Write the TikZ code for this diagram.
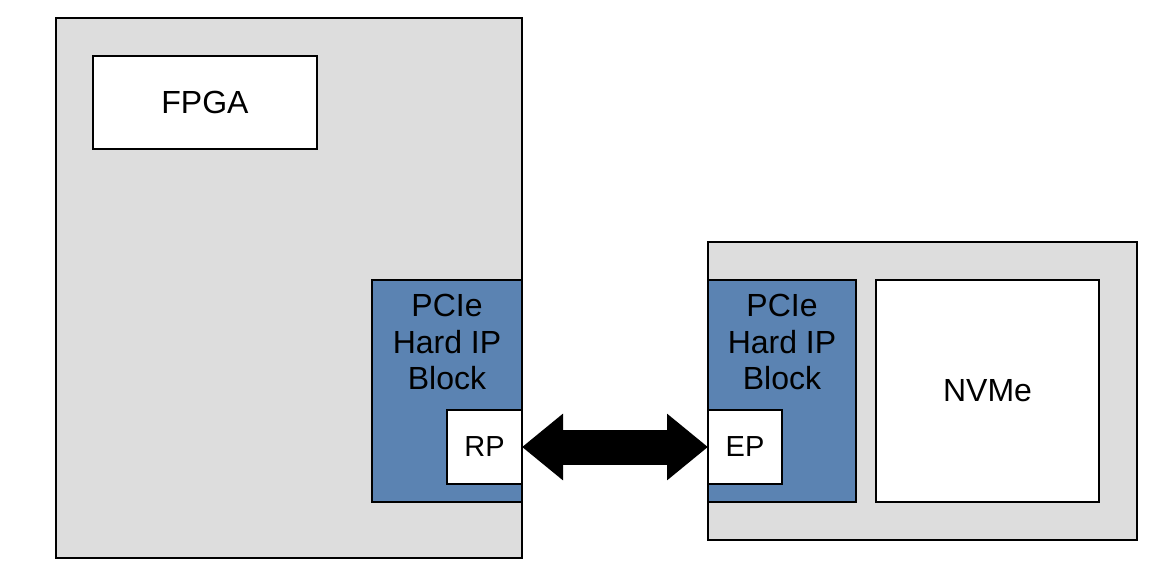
\documentclass[tikz,border=0pt]{standalone}
\usepackage{fontspec}
\setmainfont{Liberation Sans}
\usetikzlibrary{arrows.meta}
\definecolor{boxgray}{RGB}{221,221,221}
\definecolor{ipblue}{RGB}{91,131,178}
\begin{document}
\begin{tikzpicture}[x=1pt,y=-1pt,
  box/.style={draw=black,line width=2pt,rectangle,inner sep=0pt,outer sep=0pt},
  lbl/.style={font=\fontsize{32}{36.5}\selectfont,align=center,inner sep=0pt},
  small/.style={font=\fontsize{29}{34}\selectfont}]
\useasboundingbox (0,0) rectangle (1173,587);
% left board
\node[box,fill=boxgray,minimum width=466pt,minimum height=540pt] (board) at (289,288) {};
\node[box,fill=white,minimum width=224pt,minimum height=93pt,lbl] (fpga) at (205,102.5) {FPGA};
\node[box,fill=ipblue,minimum width=150pt,minimum height=222pt] (ipL) at (447,391) {};
\node[lbl,anchor=north] (ipLtxt) at (447,294) {PCIe\\Hard IP\\Block};
\node[box,fill=white,minimum width=75pt,minimum height=74pt,small] (rp) at (484.5,447) {RP};
% right board
\node[box,fill=boxgray,minimum width=429pt,minimum height=298pt] (ssd) at (922.5,391) {};
\node[box,fill=ipblue,minimum width=148pt,minimum height=222pt] (ipR) at (782,391) {};
\node[lbl,anchor=north] (ipRtxt) at (782,294) {PCIe\\Hard IP\\Block};
\node[box,fill=white,minimum width=74pt,minimum height=74pt,small] (ep) at (745,447) {EP};
\node[box,fill=white,minimum width=223pt,minimum height=222pt,lbl] (nvme) at (987.5,391) {NVMe};
% link
\draw[line width=35pt,{Triangle[length=41pt,width=64pt]}-{Triangle[length=41pt,width=64pt]}]
  (rp.east) -- (ep.west);
\end{tikzpicture}
\end{document}
